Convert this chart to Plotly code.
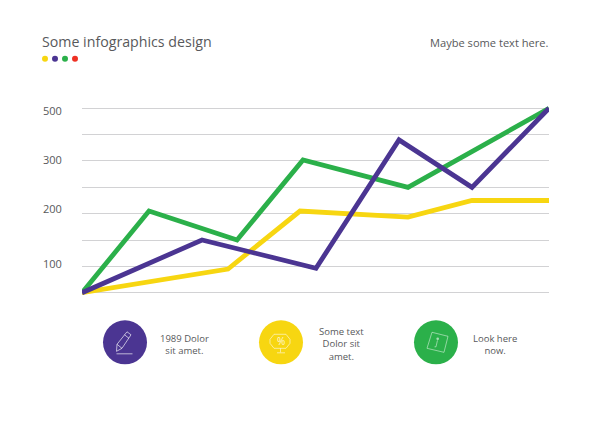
import plotly.graph_objects as go

W, H = 600, 424
L, R = 82, 549
STEP = 26.31
BASE = 292.5
PAD = 0.2
B = BASE + PAD * STEP
T = BASE - (7 + PAD) * STEP

# Positions along the x axis
green_x = [0, 67, 155, 221, 326, 467]
purple_x = [0, 120, 234, 317, 390, 467]
yellow_x = [0, 146, 218, 326, 390, 467]

# Values, in gridline steps above the baseline
green_y = [0, 3.1, 2.0, 5.04, 4.0, 7]
purple_y = [0, 2.0, 0.93, 5.8, 4.0, 7]
yellow_y = [0, 0.9, 3.1, 2.87, 3.5, 3.5]

tick_labels = ["100", "200", "300", "500"]
tick_label_levels = [1.12, 3.2, 5.07, 6.92]
grid_levels = [0, 1, 2, 3, 4, 5, 6, 7]

GREEN, PURPLE, YELLOW, RED = "#2bb04a", "#4b3592", "#f7d611", "#ee3124"
GREY = "#58595b"
FONT = "Open Sans"


def px(x):
    return (x - L) / (R - L)


def py(y):
    return (B - y) / (B - T)


def circle(cx, cy, r, color):
    return dict(type="circle", xref="paper", yref="paper",
                x0=px(cx - r), x1=px(cx + r), y0=py(cy + r), y1=py(cy - r),
                fillcolor=color, line_width=0, layer="above")


def text(x, y, s, size=9.5, anchor="center", color=GREY):
    return dict(x=px(x), y=py(y), xref="paper", yref="paper", text=s, showarrow=False,
                xanchor=anchor, yanchor="middle", align="center",
                font=dict(family=FONT, size=size, color=color))


def path(points, close=False, alpha=0.8):
    d = "M" + " L".join(f"{px(x):.5f},{py(y):.5f}" for x, y in points)
    if close:
        d += " Z"
    return dict(type="path", xref="paper", yref="paper", path=d,
                line=dict(color=f"rgba(255,255,255,{alpha})", width=0.8), layer="above")


fig = go.Figure()
for xs, ys, c in [(yellow_x, yellow_y, YELLOW), (green_x, green_y, GREEN), (purple_x, purple_y, PURPLE)]:
    fig.add_trace(go.Scatter(x=xs, y=ys, mode="lines", cliponaxis=False, hoverinfo="skip",
                             line=dict(color=c, width=4.8)))

shapes = [circle(45, 59, 3, YELLOW), circle(55, 59, 3, PURPLE), circle(65, 59, 3, GREEN), circle(75, 59, 3, RED),
          circle(125, 342, 22, PURPLE), circle(281, 342, 22, YELLOW), circle(436, 342, 22, GREEN)]
# pencil
shapes += [path([(116.5, 351), (117, 344), (127, 331.5), (131, 334.5), (122, 348)], True),
           path([(117, 344), (122, 348)]), path([(116.5, 353.5), (132.5, 353.5)]),
           path([(124.5, 334.5), (129, 338)])]
# percent badge
shapes += [path([(274, 334), (286, 334), (290, 339), (290, 343), (286, 348), (274, 348), (270, 343), (270, 339)], True, 0.7),
           path([(280.5, 348), (280.5, 352)], alpha=0.7), path([(277, 352.5), (285, 352.5)], alpha=0.7)]
# tilted square with mark
shapes += [path([(432, 332), (448, 336), (444, 352), (427, 348)], True, 0.6),
           path([(437.5, 340), (436, 346.5), (434.5, 346.5)], alpha=0.6),
           circle(437.7, 338.5, 1.3, "rgba(255,255,255,0.6)")]

ann = [text(40, 42, "Some infographics design", 14.2, "left"),
       text(551, 43, "Maybe some text here.", 11.1, "right"),
       text(184, 344, "1989 Dolor<br>sit amet."),
       text(341, 344, "Some text<br>Dolor sit<br>amet."),
       text(495, 344, "Look here<br>now."),
       text(281, 341, "%", 10, color="rgba(255,255,255,0.85)")]
for lab, lev in zip(tick_labels, tick_label_levels):
    ann.append(dict(x=0, xref="paper", xshift=-18, y=lev, yref="y", text=lab, showarrow=False,
                    xanchor="right", yanchor="middle",
                    font=dict(family=FONT, size=11, color=GREY)))

fig.update_layout(
    width=W, height=H, showlegend=False, paper_bgcolor="white", plot_bgcolor="white",
    margin=dict(l=L, r=W - R, t=T, b=H - B, pad=0), shapes=shapes, annotations=ann,
    xaxis=dict(range=[0, 467], visible=False, fixedrange=True),
    yaxis=dict(range=[-PAD, 7 + PAD], tickvals=grid_levels, showticklabels=False, gridcolor="#d2d2d4", gridwidth=1,
               zeroline=False, ticks="", showline=False, fixedrange=True),
)
fig.write_html("out.html", config={"displayModeBar": False},
               post_script="document.body.style.margin='0';document.documentElement.style.overflow='hidden';")
